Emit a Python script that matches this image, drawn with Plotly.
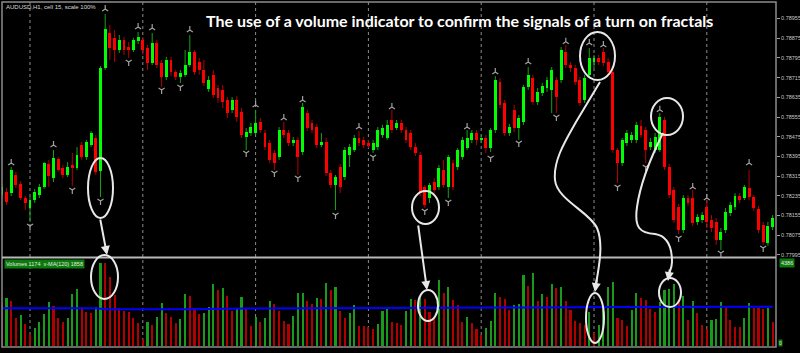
import plotly.graph_objects as go

W, H = 800, 353

# ---------------- data (AUDUSD H1) ----------------
opens = [0.78238, 0.78251, 0.78246, 0.78320, 0.78283, 0.78226, 0.78185, 0.78218, 0.78238, 0.78271,
         0.78364, 0.78307, 0.78385, 0.78348, 0.78320, 0.78360, 0.78348, 0.78441, 0.78393, 0.78441,
         0.78470, 0.78336, 0.78754, 0.78896, 0.78876, 0.78827, 0.78868, 0.78839, 0.78827, 0.78864,
         0.78868, 0.78835, 0.78774, 0.78855, 0.78774, 0.78717, 0.78787, 0.78738, 0.78717, 0.78726,
         0.78766, 0.78819, 0.78778, 0.78746, 0.78669, 0.78726, 0.78673, 0.78665, 0.78624, 0.78584,
         0.78624, 0.78575, 0.78474, 0.78490, 0.78490, 0.78535, 0.78490, 0.78449, 0.78409, 0.78393,
         0.78502, 0.78490, 0.78449, 0.78462, 0.78413, 0.78571, 0.78531, 0.78514, 0.78441, 0.78454,
         0.78328, 0.78279, 0.78352, 0.78311, 0.78401, 0.78421, 0.78470, 0.78462, 0.78449, 0.78421,
         0.78433, 0.78482, 0.78470, 0.78543, 0.78510, 0.78531, 0.78502, 0.78490, 0.78433, 0.78401,
         0.78271, 0.78226, 0.78291, 0.78271, 0.78340, 0.78271, 0.78368, 0.78352, 0.78393, 0.78429,
         0.78462, 0.78490, 0.78462, 0.78470, 0.78429, 0.78502, 0.78697, 0.78612, 0.78490, 0.78584,
         0.78510, 0.78535, 0.78677, 0.78713, 0.78616, 0.78652, 0.78673, 0.78665, 0.78705, 0.78705,
         0.78819, 0.78766, 0.78754, 0.78705, 0.78624, 0.78726, 0.78778, 0.78795, 0.78819, 0.78778,
         0.78738, 0.78421, 0.78368, 0.78449, 0.78462, 0.78462, 0.78518, 0.78502, 0.78433, 0.78421,
         0.78421, 0.78543, 0.78352, 0.78259, 0.78190, 0.78096, 0.78226, 0.78226, 0.78129, 0.78137,
         0.78190, 0.78137, 0.78129, 0.78056, 0.78096, 0.78165, 0.78190, 0.78234, 0.78226, 0.78267,
         0.78230, 0.78181, 0.78117, 0.78044, 0.78109]

closes = [0.78271, 0.78210, 0.78340, 0.78279, 0.78226, 0.78206, 0.78218, 0.78251, 0.78271, 0.78368,
          0.78315, 0.78389, 0.78340, 0.78320, 0.78352, 0.78348, 0.78401, 0.78393, 0.78454, 0.78490,
          0.78332, 0.78754, 0.78912, 0.78835, 0.78827, 0.78868, 0.78827, 0.78827, 0.78868, 0.78880,
          0.78827, 0.78774, 0.78855, 0.78766, 0.78717, 0.78787, 0.78738, 0.78717, 0.78734, 0.78766,
          0.78819, 0.78738, 0.78746, 0.78693, 0.78705, 0.78644, 0.78632, 0.78616, 0.78571, 0.78624,
          0.78555, 0.78482, 0.78494, 0.78514, 0.78531, 0.78502, 0.78433, 0.78381, 0.78368, 0.78502,
          0.78482, 0.78449, 0.78462, 0.78393, 0.78596, 0.78510, 0.78502, 0.78441, 0.78454, 0.78328,
          0.78279, 0.78311, 0.78271, 0.78421, 0.78433, 0.78470, 0.78449, 0.78441, 0.78441, 0.78449,
          0.78502, 0.78510, 0.78523, 0.78502, 0.78531, 0.78502, 0.78462, 0.78433, 0.78409, 0.78246,
          0.78198, 0.78279, 0.78259, 0.78348, 0.78279, 0.78393, 0.78271, 0.78421, 0.78462, 0.78470,
          0.78490, 0.78462, 0.78470, 0.78429, 0.78502, 0.78705, 0.78604, 0.78490, 0.78514, 0.78510,
          0.78551, 0.78677, 0.78726, 0.78616, 0.78657, 0.78681, 0.78705, 0.78746, 0.78636, 0.78827,
          0.78766, 0.78754, 0.78697, 0.78612, 0.78713, 0.78795, 0.78795, 0.78778, 0.78774, 0.78738,
          0.78421, 0.78368, 0.78462, 0.78490, 0.78482, 0.78523, 0.78482, 0.78421, 0.78454, 0.78474,
          0.78555, 0.78352, 0.78238, 0.78137, 0.78096, 0.78226, 0.78206, 0.78125, 0.78149, 0.78157,
          0.78129, 0.78104, 0.78056, 0.78088, 0.78169, 0.78198, 0.78234, 0.78218, 0.78271, 0.78230,
          0.78186, 0.78096, 0.78048, 0.78113, 0.78145]

highs = [0.78287, 0.78267, 0.78352, 0.78332, 0.78295, 0.78234, 0.78230, 0.78263, 0.78283, 0.78372,
         0.78381, 0.78421, 0.78393, 0.78360, 0.78372, 0.78409, 0.78433, 0.78454, 0.78462, 0.78498,
         0.78482, 0.78762, 0.78973, 0.78929, 0.78908, 0.78888, 0.78880, 0.78860, 0.78876, 0.78900,
         0.78880, 0.78847, 0.78896, 0.78868, 0.78787, 0.78799, 0.78799, 0.78746, 0.78746, 0.78827,
         0.78888, 0.78827, 0.78795, 0.78787, 0.78721, 0.78746, 0.78685, 0.78685, 0.78636, 0.78636,
         0.78640, 0.78592, 0.78510, 0.78531, 0.78584, 0.78551, 0.78502, 0.78462, 0.78421, 0.78514,
         0.78535, 0.78502, 0.78474, 0.78474, 0.78612, 0.78584, 0.78543, 0.78527, 0.78490, 0.78470,
         0.78340, 0.78320, 0.78364, 0.78433, 0.78445, 0.78482, 0.78498, 0.78474, 0.78462, 0.78462,
         0.78514, 0.78523, 0.78543, 0.78584, 0.78543, 0.78543, 0.78514, 0.78502, 0.78449, 0.78413,
         0.78279, 0.78287, 0.78307, 0.78360, 0.78381, 0.78401, 0.78381, 0.78429, 0.78474, 0.78502,
         0.78502, 0.78502, 0.78482, 0.78482, 0.78510, 0.78721, 0.78713, 0.78624, 0.78527, 0.78604,
         0.78563, 0.78685, 0.78758, 0.78726, 0.78673, 0.78693, 0.78717, 0.78758, 0.78717, 0.78839,
         0.78847, 0.78778, 0.78766, 0.78717, 0.78726, 0.78835, 0.78807, 0.78807, 0.78835, 0.78795,
         0.78746, 0.78429, 0.78470, 0.78502, 0.78494, 0.78535, 0.78543, 0.78514, 0.78470, 0.78490,
         0.78571, 0.78555, 0.78364, 0.78271, 0.78202, 0.78238, 0.78238, 0.78259, 0.78161, 0.78169,
         0.78218, 0.78157, 0.78145, 0.78104, 0.78186, 0.78210, 0.78246, 0.78246, 0.78279, 0.78340,
         0.78238, 0.78194, 0.78129, 0.78129, 0.78157]

lows = [0.78226, 0.78198, 0.78234, 0.78267, 0.78218, 0.78177, 0.78129, 0.78206, 0.78226, 0.78263,
        0.78271, 0.78291, 0.78332, 0.78307, 0.78311, 0.78275, 0.78340, 0.78381, 0.78381, 0.78433,
        0.78320, 0.78230, 0.78746, 0.78787, 0.78778, 0.78815, 0.78807, 0.78795, 0.78819, 0.78851,
        0.78807, 0.78746, 0.78766, 0.78754, 0.78677, 0.78705, 0.78721, 0.78705, 0.78693, 0.78717,
        0.78758, 0.78726, 0.78726, 0.78681, 0.78657, 0.78632, 0.78612, 0.78592, 0.78551, 0.78571,
        0.78535, 0.78470, 0.78421, 0.78478, 0.78482, 0.78490, 0.78421, 0.78368, 0.78340, 0.78381,
        0.78470, 0.78437, 0.78437, 0.78320, 0.78401, 0.78498, 0.78490, 0.78429, 0.78433, 0.78315,
        0.78267, 0.78177, 0.78246, 0.78299, 0.78352, 0.78413, 0.78437, 0.78429, 0.78429, 0.78409,
        0.78421, 0.78470, 0.78462, 0.78490, 0.78502, 0.78490, 0.78449, 0.78421, 0.78397, 0.78234,
        0.78186, 0.78206, 0.78238, 0.78259, 0.78267, 0.78226, 0.78259, 0.78340, 0.78381, 0.78421,
        0.78449, 0.78441, 0.78449, 0.78409, 0.78413, 0.78490, 0.78592, 0.78478, 0.78478, 0.78494,
        0.78462, 0.78523, 0.78665, 0.78604, 0.78604, 0.78640, 0.78657, 0.78571, 0.78571, 0.78693,
        0.78754, 0.78738, 0.78685, 0.78600, 0.78612, 0.78713, 0.78754, 0.78766, 0.78762, 0.78726,
        0.78409, 0.78287, 0.78356, 0.78437, 0.78449, 0.78449, 0.78470, 0.78368, 0.78421, 0.78409,
        0.78413, 0.78340, 0.78226, 0.78125, 0.78080, 0.78084, 0.78194, 0.78112, 0.78117, 0.78125,
        0.78104, 0.78088, 0.78036, 0.78015, 0.78084, 0.78153, 0.78177, 0.78206, 0.78218, 0.78218,
        0.78173, 0.78084, 0.78036, 0.78032, 0.78096]

volumes = [2158, 2374, 2241, 1378, 1544, 1079, 598, 880, 1212, 1594,
           2175, 1992, 1411, 1212, 1378, 2590, 2822, 1959, 1677, 1660,
           1959, 4149, 4117, 3419, 2540, 1876, 1743, 1690, 1378, 1162,
           332, 1212, 1046, 1461, 2125, 1660, 1461, 1129, 1328, 2573,
           2490, 1876, 1594, 1627, 1959, 3088, 2789, 2872, 2490, 1760,
           1876, 2457, 1876, 996, 1428, 1212, 1378, 2241, 2092, 1743,
           1262, 1096, 1494, 2623, 2656, 2241, 2075, 2374, 2324, 3121,
           2789, 2922, 1743, 1378, 1627, 2042, 996, 990, 929, 830,
           1079, 1743, 1959, 1212, 1162, 1046, 1760, 2324, 2291, 2374,
           2350, 1710, 1461, 3287, 2623, 2955, 2291, 2042, 1212, 1428,
           1162, 830, 548, 880, 1262, 2623, 2424, 2324, 1793, 2042,
           2092, 3536, 2988, 3652, 2258, 2600, 2457, 3071, 2872, 2922,
           2258, 1793, 1262, 1162, 1046, 1710, 631, 1046, 1876, 2955,
           3204, 1378, 1295, 996, 1793, 2623, 2374, 2291, 1826, 1710,
           2208, 2789, 2822, 3088, 2291, 2490, 1295, 2241, 1627, 1046,
           830, 1295, 1328, 2208, 1959, 1295, 963, 929, 1378, 2158,
           1876, 1870, 1826, 1876, 1174]

# x-MA(120) of volume, read at a few bars
ma_bars = [0, 20, 22, 40, 52, 60, 80, 100, 115, 130, 150, 164]
ma_vals = [1880, 1880, 1830, 1830, 1870, 1875, 1880, 1885, 1920, 1950, 1950, 1955]

# Bill Williams fractals
frac_up_bars = [2, 11, 22, 29, 32, 40, 54, 60, 64, 76, 83, 99, 105, 112, 120, 125, 128, 140, 147, 150, 159]
frac_up_vals = [0.78368, 0.78441, 0.78993, 0.78920, 0.78916, 0.78908, 0.78604, 0.78551, 0.78624, 0.78514,
                0.78596, 0.78514, 0.78738, 0.78778, 0.78860, 0.78855, 0.78847, 0.78584, 0.78271, 0.78226,
                0.78368]
frac_dn_bars = [6, 15, 21, 27, 34, 38, 52, 58, 63, 71, 79, 90, 95, 104, 110, 118, 131, 137, 144, 153, 162]
frac_dn_vals = [0.78112, 0.78259, 0.78214, 0.78778, 0.78665, 0.78677, 0.78409, 0.78328, 0.78307, 0.78157,
                0.78393, 0.78173, 0.78210, 0.78389, 0.78449, 0.78555, 0.78271, 0.78352, 0.78064, 0.78003,
                0.78023]

day_start_bars = [6, 30, 54, 78, 102, 126, 150]
price_ticks = [0.78955, 0.78875, 0.78795, 0.78715, 0.78635, 0.78555, 0.78475,
               0.78395, 0.78315, 0.78235, 0.78155, 0.78075, 0.77995]
volume_max = 4386

title_text = "The use of a volume indicator to confirm the signals of a turn on fractals"
symbol_text = "AUDUSD,H1, cell 15, scale 100%"
volume_label = "Volumes 1174  x-MA(120) 1858"

# ---------------- layout geometry (pixels) ----------------
def PX(x):
    return x / W

def PY(y):
    return 1 - y / H

X_LEFT, X_RIGHT = 2, 776
PRICE_TOP, PRICE_BOT = 2, 257
VOL_TOP, VOL_BOT = 258, 346

n = len(opens)
idx = list(range(n))

BULL, BEAR = "#00ff00", "#ff0000"
BULL_W, BEAR_W = "#16a016", "#b40000"
VOL_G, VOL_R = "#1a9a1a", "#b00000"

fig = go.Figure()

# wicks (upper and lower parts, so that bodies stay clean)
for up, col in ((True, BULL_W), (False, BEAR_W)):
    xs, ys = [], []
    for i in idx:
        o, c, h, l = opens[i], closes[i], highs[i], lows[i]
        if (c >= o) != up:
            continue
        top, bot = max(o, c), min(o, c)
        xs += [i, i, None, i, i, None]
        ys += [h, top, None, bot, l, None]
    fig.add_trace(go.Scatter(x=xs, y=ys, mode="lines", line=dict(color=col, width=1),
                             xaxis="x", yaxis="y", hoverinfo="skip", showlegend=False))

# bodies
for up, col in ((True, BULL), (False, BEAR)):
    bx, bb, bh = [], [], []
    for i in idx:
        o, c = opens[i], closes[i]
        if (c >= o) != up:
            continue
        bx.append(i)
        bb.append(min(o, c))
        bh.append(max(abs(c - o), 0.00003))
    fig.add_trace(go.Bar(x=bx, y=bh, base=bb, width=0.62, marker=dict(color=col, line=dict(width=0)),
                         xaxis="x", yaxis="y", hoverinfo="skip", showlegend=False))

# fractals
fig.add_trace(go.Scatter(x=frac_up_bars, y=frac_up_vals, mode="markers",
                         marker=dict(symbol="y-up", size=5, line=dict(color="#a0a0a0", width=1.2)),
                         xaxis="x", yaxis="y", hoverinfo="skip", showlegend=False))
fig.add_trace(go.Scatter(x=frac_dn_bars, y=frac_dn_vals, mode="markers",
                         marker=dict(symbol="y-down", size=5, line=dict(color="#a0a0a0", width=1.2)),
                         xaxis="x", yaxis="y", hoverinfo="skip", showlegend=False))

# volumes (MT4 rule: green when volume grows, red otherwise)
vcols = [VOL_R] + [VOL_G if volumes[i] > volumes[i - 1] else VOL_R for i in range(1, n)]
fig.add_trace(go.Bar(x=idx, y=volumes, width=0.45, marker=dict(color=vcols, line=dict(width=0)),
                     xaxis="x2", yaxis="y2", hoverinfo="skip", showlegend=False))
fig.add_trace(go.Scatter(x=ma_bars, y=ma_vals, mode="lines", line=dict(color="#0000ff", width=2),
                         xaxis="x2", yaxis="y2", hoverinfo="skip", showlegend=False))

# ---------------- overlay decorations (hand-drawn marks) ----------------
shapes = []
# vertical day separators
for b in day_start_bars:
    shapes.append(dict(type="line", xref="x", yref="paper", x0=b, x1=b,
                       y0=PY(VOL_BOT + 1), y1=PY(PRICE_TOP), line=dict(color="#8c8c8c", width=1, dash="dot"),
                       layer="below"))
# frame and separator
shapes.append(dict(type="rect", xref="paper", yref="paper", x0=PX(X_LEFT), x1=PX(X_RIGHT),
                   y0=PY(VOL_BOT + 1), y1=PY(PRICE_TOP), line=dict(color="#8c8c8c", width=1.5)))
shapes.append(dict(type="line", xref="paper", yref="paper", x0=PX(X_LEFT), x1=PX(X_RIGHT),
                   y0=PY(257.5), y1=PY(257.5), line=dict(color="#b8b8b8", width=2)))

ellipses_px = [(88, 158, 113, 218), (91, 255, 118, 299), (412, 191, 439, 224), (418, 290, 438, 321),
               (580, 32, 615, 80), (586, 293, 604, 343), (651, 98, 683, 135), (659, 278, 681, 307)]
for (x0, y0, x1, y1) in ellipses_px:
    shapes.append(dict(type="circle", xref="paper", yref="paper", x0=PX(x0), x1=PX(x1),
                       y0=PY(y1), y1=PY(y0), line=dict(color="#e8e8e8", width=2)))

def path_str(cmds):
    out = []
    for cmd, pts in cmds:
        out.append(cmd + " ".join(f"{PX(x):.5f},{PY(y):.5f}" for x, y in pts))
    return " ".join(out)

curve_c = [("M", [(600, 82)]), ("L", [(576, 122)]),
           ("C", [(566, 140), (553, 160), (555, 180)]),
           ("C", [(557, 200), (590, 212), (597, 228)]),
           ("C", [(603, 242), (600, 262), (596, 284)])]
curve_d = [("M", [(663, 133)]),
           ("C", [(652, 155), (640, 185), (637, 207)]),
           ("C", [(634, 228), (640, 233), (655, 234)]),
           ("C", [(668, 236), (672, 248), (672, 262)]),
           ("C", [(672, 267), (670, 271), (669, 274)])]
for cv in (curve_c, curve_d):
    shapes.append(dict(type="path", xref="paper", yref="paper", path=path_str(cv),
                       line=dict(color="#e8e8e8", width=2)))

annotations = []
# arrows: (head_x, head_y, tail_x, tail_y) in pixels
arrows_px = [(107, 255, 100, 218), (427, 290, 418, 224), (595, 292, 597, 278), (668, 281, 670, 268)]
for hx, hy, tx, ty in arrows_px:
    annotations.append(dict(xref="paper", yref="paper", x=PX(hx), y=PY(hy), ax=tx - hx, ay=ty - hy,
                            text="", showarrow=True, arrowhead=2, arrowsize=0.9, arrowwidth=2,
                            arrowcolor="#e8e8e8"))

annotations.append(dict(xref="paper", yref="paper", x=PX(459), y=PY(20), text="<b>" + title_text + "</b>",
                        showarrow=False, font=dict(family="Lato", size=16, color="#ffffff"),
                        xanchor="center", yanchor="middle"))
annotations.append(dict(xref="paper", yref="paper", x=PX(4), y=PY(6.5), text=symbol_text,
                        showarrow=False, font=dict(family="Liberation Sans", size=6, color="#d8d8d8"),
                        xanchor="left", yanchor="middle"))
annotations.append(dict(xref="paper", yref="paper", x=PX(4), y=PY(264), text=volume_label,
                        showarrow=False, font=dict(family="Liberation Sans", size=5.5, color="#e8e8e8"),
                        xanchor="left", yanchor="middle", bgcolor="#0b7a0b", borderpad=1))
annotations.append(dict(xref="paper", yref="paper", x=PX(779), y=PY(263), text=str(volume_max),
                        showarrow=False, font=dict(family="Liberation Sans", size=5.5, color="#e8e8e8"),
                        xanchor="left", yanchor="middle", bgcolor="#0b7a0b", borderpad=1))
annotations.append(dict(xref="paper", yref="paper", x=PX(778), y=PY(343), text="0",
                        showarrow=False, font=dict(family="Liberation Sans", size=5, color="#e8e8e8"),
                        xanchor="left", yanchor="middle", bgcolor="#0b7a0b", borderpad=0))

# x mapping: bar i centred at pixel 1.8 + 4.7 i
x_range = [(X_LEFT - 1.8) / 4.7, (X_RIGHT - 1.8) / 4.7]
# y mapping: price p at pixel y with p = 0.79030 - 0.0000406 y
y_range = [0.79030 - 0.0000406 * PRICE_BOT, 0.79030 - 0.0000406 * PRICE_TOP]

fig.update_layout(
    width=W, height=H, margin=dict(l=0, r=0, t=0, b=0), autosize=False,
    paper_bgcolor="#000000", plot_bgcolor="#000000",
    barmode="overlay", bargap=0, showlegend=False, hovermode=False,
    xaxis=dict(domain=[PX(X_LEFT), PX(X_RIGHT)], range=x_range, visible=False, anchor="y"),
    yaxis=dict(domain=[PY(PRICE_BOT), PY(PRICE_TOP)], range=y_range, side="right", anchor="x",
               tickvals=price_ticks, ticktext=[f"{t:.5f}" for t in price_ticks],
               tickfont=dict(family="Liberation Sans", size=5.5, color="#c8c8c8"),
               ticks="outside", ticklen=3, tickcolor="#a0a0a0", showgrid=False, zeroline=False,
               showline=False),
    xaxis2=dict(domain=[PX(X_LEFT), PX(X_RIGHT)], range=x_range, visible=False, anchor="y2"),
    yaxis2=dict(domain=[PY(VOL_BOT), PY(VOL_TOP)], range=[0, volume_max], visible=False, anchor="x2"),
    shapes=shapes, annotations=annotations,
)

fig.write_html("out.html")
